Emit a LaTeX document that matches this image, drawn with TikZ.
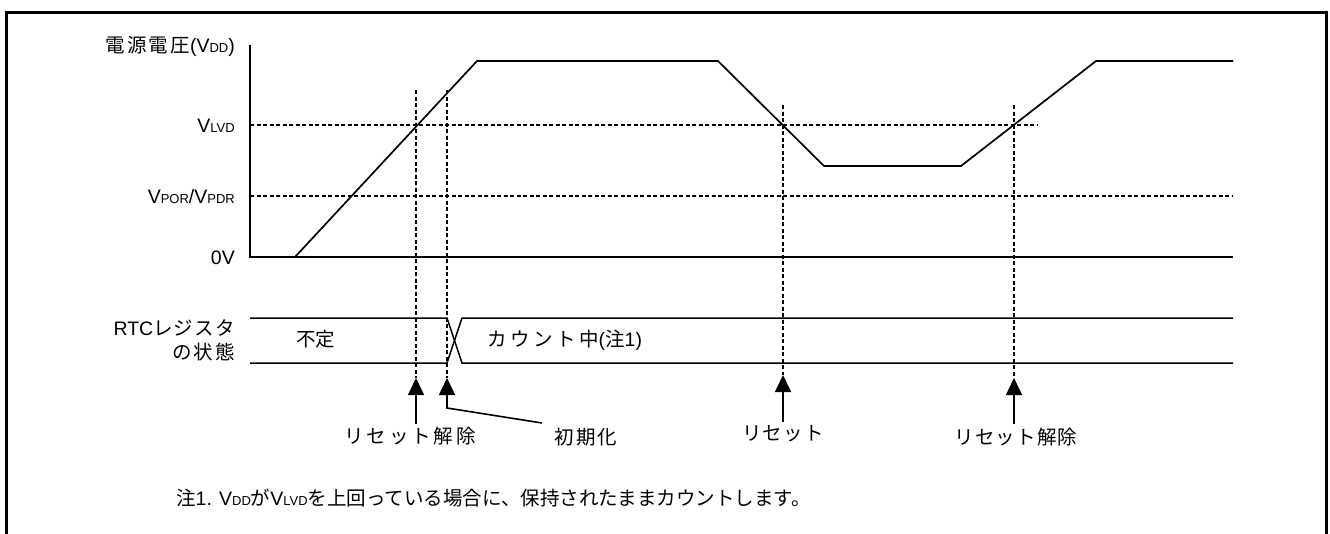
\documentclass[tikz,border=0pt]{standalone}
\usepackage{fontspec}
\setmainfont{Liberation Sans}
\newfontfamily\jpn{Noto Sans CJK JP}
\newfontfamily\jpa[LetterSpace=6]{Noto Sans CJK JP}
\newfontfamily\jp[LetterSpace=11]{Noto Sans CJK JP}
\newfontfamily\jpb[LetterSpace=15]{Noto Sans CJK JP}
\newfontfamily\jpc[LetterSpace=18]{Noto Sans CJK JP}
\usetikzlibrary{arrows.meta}
\newcommand{\sbs}[1]{{\fontsize{13}{13}\selectfont #1}}
\newcommand{\fs}{\fontsize{19.5}{22}\selectfont}
\begin{document}
\begin{tikzpicture}[x=1pt,y=-1pt,
  sline/.style={line width=1.7pt},
  rline/.style={line width=1.5pt},
  dline/.style={line width=1.2pt, dash pattern=on 4pt off 2.5pt},
  lbl/.style={inner sep=0pt, font=\fs},
  arr/.style={line width=1.6pt, -{Triangle[length=17pt,width=16pt]}},
]
\useasboundingbox (0,0) rectangle (1330,533);
\draw[line width=3pt] (6.5,570) rectangle (1326,12.5);
% coordinates
\coordinate (ytop) at (250,45);
\coordinate (org) at (250,257);
\coordinate (xend) at (1233,257);
\coordinate (lvdA) at (250,125);
\coordinate (lvdB) at (1037,125);
\coordinate (porA) at (250,196);
\coordinate (porB) at (1233,196);
\coordinate (c0) at (295,257);
\coordinate (c1) at (477,61);
\coordinate (c2) at (718,61);
\coordinate (c3) at (824,166);
\coordinate (c4) at (961,166);
\coordinate (c5) at (1096,61);
\coordinate (c6) at (1233,61);
% axes and levels
\draw[sline] (ytop) -- (org) -- (xend);
\draw[dline] (lvdA) -- (lvdB);
\draw[dline] (porA) -- (porB);
\draw[sline] (c0) -- (c1) -- (c2) -- (c3) -- (c4) -- (c5) -- (c6);
% event markers
\coordinate (v1t) at (416,90);   \coordinate (v1b) at (416,378);
\coordinate (v2t) at (447,90);   \coordinate (v2b) at (447,378);
\coordinate (v3t) at (783,105);  \coordinate (v3b) at (783,375);
\coordinate (v4t) at (1014,105); \coordinate (v4b) at (1014,378);
\draw[dline] (v1t) -- (v1b);
\draw[dline] (v2t) -- (v2b);
\draw[dline] (v3t) -- (v3b);
\draw[dline] (v4t) -- (v4b);
% RTC register state
\coordinate (rTL) at (250,318); \coordinate (rBL) at (250,363);
\coordinate (xT1) at (447,318); \coordinate (xB1) at (447,363);
\coordinate (xT2) at (462,318); \coordinate (xB2) at (462,363);
\coordinate (rTR) at (1233,318); \coordinate (rBR) at (1233,363);
\draw[rline] (rTL) -- (xT1) -- (xB2) -- (rBR);
\draw[rline] (rBL) -- (xB1) -- (xT2) -- (rTR);
% labels
\node[lbl, anchor=base east] (lvdd) at (235,52) {{\jp 電源電圧}(V\sbs{DD})};
\node[lbl, anchor=base east] (llvd) at (235,132) {V\sbs{LVD}};
\node[lbl, anchor=base east] (lpor) at (235,203) {V\sbs{POR}/V\sbs{PDR}};
\node[lbl, anchor=base east] (lzero) at (235,264) {0V};
\node[lbl, anchor=base east] (lrtc1) at (235,335) {RTC{\jpa レジスタ}};
\node[lbl, anchor=base east] (lrtc2) at (235,359) {{\jp の状態}};
\node[lbl, anchor=base west] (undef) at (296,346) {{\jpn 不定}};
\node[lbl, anchor=base west] (count) at (487,346) {{\jpc カウント中}({\jpn 注}1)};
\node[lbl, anchor=base] (rel1) at (410,443) {{\jpb リセット解除}};
\node[lbl, anchor=base] (init) at (586,444) {{\jp 初期化}};
\node[lbl, anchor=base] (rst) at (783,440) {{\jpa リセット}};
\node[lbl, anchor=base] (rel2) at (1016,444) {{\jpa リセット解除}};
\node[lbl, anchor=base west] (note) at (176,505) {{\jpn 注}1. V\sbs{DD}{\jpn が}V\sbs{LVD}{\jpn を上回っている場合に、保持されたままカウントします。}};
% arrows
\coordinate (a1) at (416,424);
\coordinate (a2k) at (447,408);
\coordinate (a2) at (542,423);
\coordinate (a3) at (783,422);
\coordinate (a4) at (1014,424);
\draw[arr] (a1) -- (v1b);
\draw[arr] (a2) -- (a2k) -- (v2b);
\draw[arr] (a3) -- (v3b);
\draw[arr] (a4) -- (v4b);
\end{tikzpicture}
\end{document}
